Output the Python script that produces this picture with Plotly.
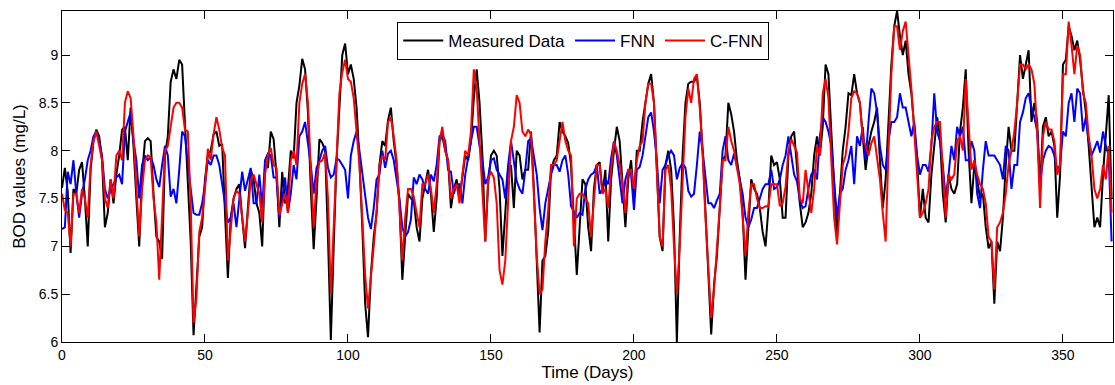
import plotly.graph_objects as go

days = list(range(0, 368))

measured = [
7.61, 7.82, 7.57, 6.93, 7.6, 7.55, 7.8, 7.88, 7.5, 7.0,
7.8, 8.1, 8.22, 8.15, 7.9, 7.2, 7.35, 7.7, 7.45, 7.75,
7.95, 8.22, 8.25, 7.9, 8.45, 8.05, 7.5, 7.0, 7.75, 8.1,
8.13, 8.1, 7.55, 7.1, 7.05, 6.87, 7.95, 8.15, 8.72, 8.85,
8.75, 8.95, 8.9, 8.25, 7.75, 7.05, 6.07, 6.55, 7.1, 7.2,
7.7, 7.95, 8.0, 8.17, 8.2, 8.05, 8.07, 7.35, 6.67, 7.3,
7.5, 7.6, 7.65, 7.3, 6.98, 7.4, 7.8, 7.7, 7.45, 7.35,
7.0, 7.85, 7.82, 8.2, 8.12, 7.75, 7.2, 7.78, 7.45, 7.6,
8.0, 7.92, 8.5, 8.68, 8.96, 8.85, 8.4, 7.6, 6.97, 7.5,
8.12, 8.08, 8.0, 7.1, 6.02, 7.0, 7.9, 8.45, 9.0, 9.12,
8.8, 8.9, 8.75, 8.45, 7.9, 7.2, 6.4, 6.05, 6.7, 7.1,
7.35, 7.85, 8.1, 8.05, 8.32, 8.45, 8.1, 7.85, 7.45, 6.65,
7.15, 7.55, 7.5, 7.48, 7.2, 7.05, 7.5, 7.65, 7.8, 7.55,
7.15, 7.5, 8.1, 8.15, 8.0, 7.9, 7.4, 7.6, 7.7, 7.5,
7.7, 7.95, 7.9, 8.1, 8.55, 8.85, 8.5, 7.95, 7.05, 7.65,
7.95, 8.0, 7.95, 7.6, 6.9, 7.4, 7.8, 7.85, 7.4, 8.0,
7.95, 7.7, 7.8, 7.8, 8.2, 7.6, 6.8, 6.1, 6.85, 6.9,
7.15, 7.8, 7.9, 7.95, 8.3, 8.2, 8.15, 8.08, 7.85, 7.3,
6.7, 7.2, 7.7, 7.65, 7.2, 6.95, 7.6, 7.85, 7.88, 7.55,
7.8, 7.05, 7.7, 8.0, 8.25, 8.1, 7.7, 7.2, 7.7, 7.9,
7.5, 8.0, 8.0, 8.3, 8.5, 8.7, 8.8, 8.5, 7.8, 7.1,
6.95, 7.85, 8.0, 7.8, 7.2, 6.0, 7.1, 7.95, 8.5, 8.7,
8.72, 8.72, 8.78, 8.5, 8.0, 7.3, 6.6, 6.08, 6.6, 6.9,
7.4, 7.9, 7.95, 8.5, 8.38, 8.2, 7.9, 7.7, 7.35, 6.65,
7.2, 7.7, 7.6, 7.55, 7.4, 7.15, 7.0, 7.4, 7.95, 7.85,
7.88, 7.7, 7.3, 7.3, 7.95, 8.15, 8.2, 7.85, 7.45, 7.2,
7.25, 7.35, 7.55, 7.95, 8.15, 7.95, 8.25, 8.9, 8.8, 8.2,
7.7, 7.1, 7.55, 8.0, 8.25, 8.6, 8.58, 8.8, 8.6, 8.5,
8.15, 7.8, 8.05, 8.2, 8.3, 8.45, 7.9, 7.4, 7.7, 8.3,
8.9, 9.3, 9.46, 9.2, 9.0, 9.15, 8.8, 8.6, 8.2, 7.9,
7.3, 7.6, 7.3, 7.25, 7.75, 8.05, 8.35, 8.15, 7.55, 7.25,
7.75, 7.6, 7.55, 7.65, 8.2, 8.45, 8.85, 8.0, 7.45, 7.85,
7.7, 7.5, 7.55, 7.2, 6.98, 7.05, 6.4, 7.05, 6.95, 7.3,
7.85, 8.25, 8.0, 8.0, 8.5, 9.0, 8.75, 8.9, 9.05, 8.3,
8.5, 8.3, 7.6, 8.25, 8.35, 8.15, 8.2, 8.05, 7.3, 7.75,
8.9, 8.95, 9.3, 9.2, 9.05, 9.15, 8.95, 8.65, 8.4, 8.05,
7.65, 7.2, 7.3, 7.2, 7.75, 8.2, 8.58, 7.5,
]

fnn = [
7.18, 7.2, 7.78, 7.65, 7.9, 7.55, 7.3, 7.55, 7.7, 7.9,
8.0, 8.15, 8.2, 8.1, 7.95, 7.6, 7.5, 7.6, 7.65, 7.72,
7.75, 7.65, 8.2, 8.3, 8.4, 8.1, 7.9, 7.5, 7.85, 7.95,
7.9, 7.93, 7.85, 7.7, 7.62, 7.85, 8.05, 7.95, 7.52, 7.6,
7.45, 7.8, 8.2, 8.15, 7.85, 7.6, 7.35, 7.33, 7.33, 7.45,
7.65, 7.9, 7.85, 7.95, 7.95, 7.85, 7.65, 7.45, 7.25, 7.3,
7.45, 7.2, 7.5, 7.78, 7.58, 7.7, 7.82, 7.45, 7.45, 7.75,
7.4, 7.9, 7.97, 7.95, 7.72, 7.72, 7.3, 7.5, 7.72, 7.35,
7.55, 7.85, 7.7, 8.15, 8.2, 8.3, 8.1, 7.85, 7.55, 7.82,
7.9, 8.0, 8.05, 7.82, 7.72, 7.75, 7.92, 7.9, 7.85, 7.8,
7.5, 7.95, 8.1, 8.2, 8.0, 7.75, 7.55, 7.3, 7.18, 7.4,
7.7, 7.75, 8.0, 7.82, 7.97, 8.0, 7.9, 7.7, 7.5, 7.2,
7.1, 7.15, 7.28, 7.72, 7.65, 7.75, 7.7, 7.6, 7.55, 7.75,
7.68, 7.85, 8.15, 8.17, 8.1, 7.8, 7.78, 7.55, 7.65, 7.65,
7.45, 7.75, 7.95, 8.1, 8.25, 8.25, 8.05, 7.9, 7.65, 7.72,
7.9, 7.92, 7.8, 7.75, 7.7, 7.5, 7.85, 8.1, 7.9, 7.68,
7.6, 7.55, 7.8, 8.1, 8.13, 7.95, 7.75, 7.4, 7.17, 7.45,
7.6, 7.75, 7.85, 7.85, 7.78, 7.9, 7.95, 7.75, 7.42, 7.35,
7.3, 7.35, 7.33, 7.6, 7.7, 7.75, 7.77, 7.85, 7.55, 7.6,
7.7, 7.65, 7.92, 8.1, 7.95, 7.7, 7.45, 7.7, 7.8, 7.75,
7.38, 7.8, 7.83, 7.95, 8.15, 8.35, 8.4, 8.2, 7.9, 7.45,
7.8, 7.85, 7.95, 8.0, 7.95, 7.7, 7.82, 7.87, 7.82, 7.58,
7.52, 7.55, 7.85, 8.2, 8.0, 7.7, 7.45, 7.45, 7.4, 7.48,
7.55, 8.0, 8.15, 7.9, 7.85, 7.97, 7.85, 7.7, 7.55, 7.3,
7.2, 7.28, 7.4, 7.4, 7.5, 7.6, 7.65, 7.65, 7.8, 7.6,
7.62, 7.7, 7.85, 7.95, 8.15, 7.95, 7.75, 7.68, 7.48, 7.4,
7.42, 7.6, 7.75, 7.8, 7.7, 8.15, 8.35, 8.3, 8.2, 8.05,
7.7, 7.3, 7.55, 7.6, 7.8, 7.9, 8.05, 7.65, 8.15, 8.05,
8.25, 7.9, 8.3, 8.65, 8.6, 8.4, 8.05, 7.85, 7.8, 8.1,
8.3, 8.3, 8.35, 8.6, 8.45, 8.45, 8.3, 8.15, 8.3, 7.95,
7.75, 7.85, 7.85, 7.78, 8.05, 8.6, 8.2, 8.1, 7.85, 7.5,
7.75, 8.05, 7.9, 8.25, 8.15, 8.25, 7.9, 7.9, 8.1, 8.0,
7.55, 7.4, 7.8, 8.1, 7.95, 7.95, 7.95, 7.9, 7.85, 7.7,
8.05, 8.0, 7.6, 7.85, 7.85, 8.3, 8.4, 8.55, 8.6, 8.45,
8.35, 8.2, 7.65, 7.9, 8.0, 8.05, 8.03, 7.95, 7.8, 7.85,
8.2, 8.15, 8.5, 8.6, 8.3, 8.65, 8.6, 8.2, 8.35, 8.1,
7.95, 8.02, 8.1, 7.98, 8.2, 8.05, 7.95, 7.05,
]

cfnn = [
7.55, 7.38, 7.35, 7.0, 7.55, 7.55, 7.35, 7.6, 7.5, 7.3,
7.85, 8.1, 8.2, 8.05, 7.9, 7.5, 7.4, 7.7, 7.5, 7.95,
8.0, 7.9, 8.5, 8.62, 8.55, 8.15, 7.6, 7.1, 7.6, 7.9,
7.95, 7.93, 7.5, 7.25, 6.65, 7.35, 8.0, 8.05, 8.25, 8.45,
8.5, 8.5, 8.45, 8.22, 8.2, 7.45, 6.2, 6.45, 7.15, 7.3,
7.6, 8.02, 7.9, 8.17, 8.35, 8.22, 8.03, 7.95, 6.85, 7.2,
7.5, 7.58, 7.55, 7.3, 7.05, 7.35, 7.7, 7.75, 7.65, 7.55,
7.25, 7.75, 7.95, 8.03, 7.85, 7.82, 7.33, 7.45, 7.55, 7.35,
7.9, 8.0, 7.85, 8.5, 8.7, 8.8, 8.5, 7.8, 7.2, 7.7,
7.88, 7.9, 7.98, 7.5, 6.5, 7.2, 7.95, 8.6, 8.82, 8.95,
8.75, 8.72, 8.55, 8.2, 7.85, 7.3, 6.7, 6.35, 6.65, 7.0,
7.35, 7.85, 7.95, 7.9, 8.3, 8.35, 8.15, 7.9, 7.4, 6.85,
7.3, 7.6, 7.6, 7.52, 7.35, 7.2, 7.65, 7.65, 7.75, 7.6,
7.35, 7.65, 8.1, 8.25, 8.0, 7.9, 7.5, 7.6, 7.65, 7.45,
7.75, 8.0, 7.95, 8.2, 8.85, 8.65, 8.1, 7.55, 7.05, 7.7,
7.78, 7.72, 7.45, 6.75, 6.6, 6.85, 7.55, 8.1, 8.25, 8.58,
8.5, 8.2, 8.15, 8.22, 8.17, 7.55, 6.9, 6.5, 6.55, 7.05,
7.38, 7.85, 7.85, 7.9, 8.1, 8.3, 8.1, 8.0, 7.95, 7.0,
7.5, 7.55, 7.55, 7.5, 7.45, 7.1, 7.5, 7.85, 7.85, 7.55,
7.6, 7.4, 7.8, 8.1, 8.0, 7.85, 7.65, 7.35, 7.8, 7.8,
7.6, 7.9, 8.05, 8.1, 8.5, 8.7, 8.7, 8.5, 7.8, 7.1,
7.0, 7.8, 7.85, 7.6, 7.0, 6.5, 7.0, 7.6, 8.35, 8.65,
8.5, 8.75, 8.8, 8.45, 7.98, 7.3, 6.7, 6.25, 6.55, 6.95,
7.4, 7.9, 7.9, 8.25, 8.1, 8.0, 7.8, 7.65, 7.3, 6.9,
7.35, 7.65, 7.65, 7.5, 7.4, 7.4, 7.42, 7.42, 7.65, 7.65,
7.65, 7.42, 7.45, 7.62, 8.0, 8.12, 8.05, 7.98, 7.5, 7.45,
7.8, 7.55, 7.35, 7.6, 8.05, 7.95, 8.6, 8.75, 8.55, 7.9,
7.3, 7.02, 7.45, 7.85, 7.95, 8.2, 8.55, 8.62, 8.6, 8.5,
8.12, 8.05, 7.95, 8.08, 8.15, 7.9, 7.7, 7.35, 7.05, 8.0,
8.8, 9.3, 9.3, 9.05, 9.25, 9.35, 9.0, 8.65, 8.2, 7.7,
7.3, 7.35, 7.45, 7.6, 8.1, 8.25, 8.3, 8.3, 7.85, 7.3,
7.75, 7.7, 7.75, 8.1, 8.15, 8.0, 8.75, 8.3, 7.8, 7.9,
7.75, 7.65, 7.6, 7.45, 7.1, 7.05, 6.55, 7.2, 7.25, 7.35,
7.55, 7.85, 8.0, 8.2, 8.5, 8.9, 8.9, 8.85, 8.9, 8.85,
8.7, 8.2, 7.4, 8.15, 8.3, 8.22, 8.22, 8.1, 7.75, 7.85,
8.8, 8.8, 9.35, 9.1, 8.8, 9.1, 9.0, 8.6, 8.5, 8.15,
7.95, 7.6, 7.5, 7.6, 7.85, 7.7, 8.05, 7.35,
]

x_tick_vals = [0, 50, 100, 150, 200, 250, 300, 350]
x_tick_text = ["0", "50", "100", "150", "200", "250", "300", "350"]
y_tick_vals = [6, 6.5, 7, 7.5, 8, 8.5, 9]
y_tick_text = ["6", "6.5", "7", "7.5", "8", "8.5", "9"]

FONT = "Liberation Sans, Arial, sans-serif"

fig = go.Figure()
fig.add_trace(go.Scatter(x=days, y=measured, mode="lines", name="Measured Data",
                         line=dict(color="#000000", width=2)))
fig.add_trace(go.Scatter(x=days, y=fnn, mode="lines", name="FNN",
                         line=dict(color="#0000FF", width=2)))
fig.add_trace(go.Scatter(x=days, y=cfnn, mode="lines", name="C-FNN",
                         line=dict(color="#FF0000", width=2)))

axis_common = dict(showline=True, linecolor="black", linewidth=1, mirror="allticks",
                   ticks="inside", ticklen=8, tickcolor="black", tickwidth=1,
                   showgrid=False, zeroline=False, automargin=False,
                   tickfont=dict(family=FONT, size=14, color="black"))

fig.update_layout(
    width=1115, height=385,
    margin=dict(l=62, r=2, t=11, b=43),
    paper_bgcolor="white", plot_bgcolor="white",
    font=dict(family=FONT, size=14, color="black"),
    xaxis=dict(range=[0, 367.5], tickvals=x_tick_vals, ticktext=x_tick_text,
               title=dict(text="Time (Days)", font=dict(family=FONT, size=17), standoff=4),
               **axis_common),
    yaxis=dict(range=[6, 9.46], tickvals=y_tick_vals, ticktext=y_tick_text,
               title=dict(text="BOD values (mg/L)", font=dict(family=FONT, size=17), standoff=8),
               **axis_common),
    legend=dict(orientation="h", x=0.319, y=0.967, xanchor="left", yanchor="top",
                bgcolor="white", bordercolor="black", borderwidth=1,
                font=dict(family=FONT, size=17, color="black"),
                itemwidth=40, tracegroupgap=0),
    showlegend=True,
)

fig.write_html("out.html", config={"displayModeBar": False},
               post_script="document.body.style.margin='0';document.body.style.overflow='hidden';")
